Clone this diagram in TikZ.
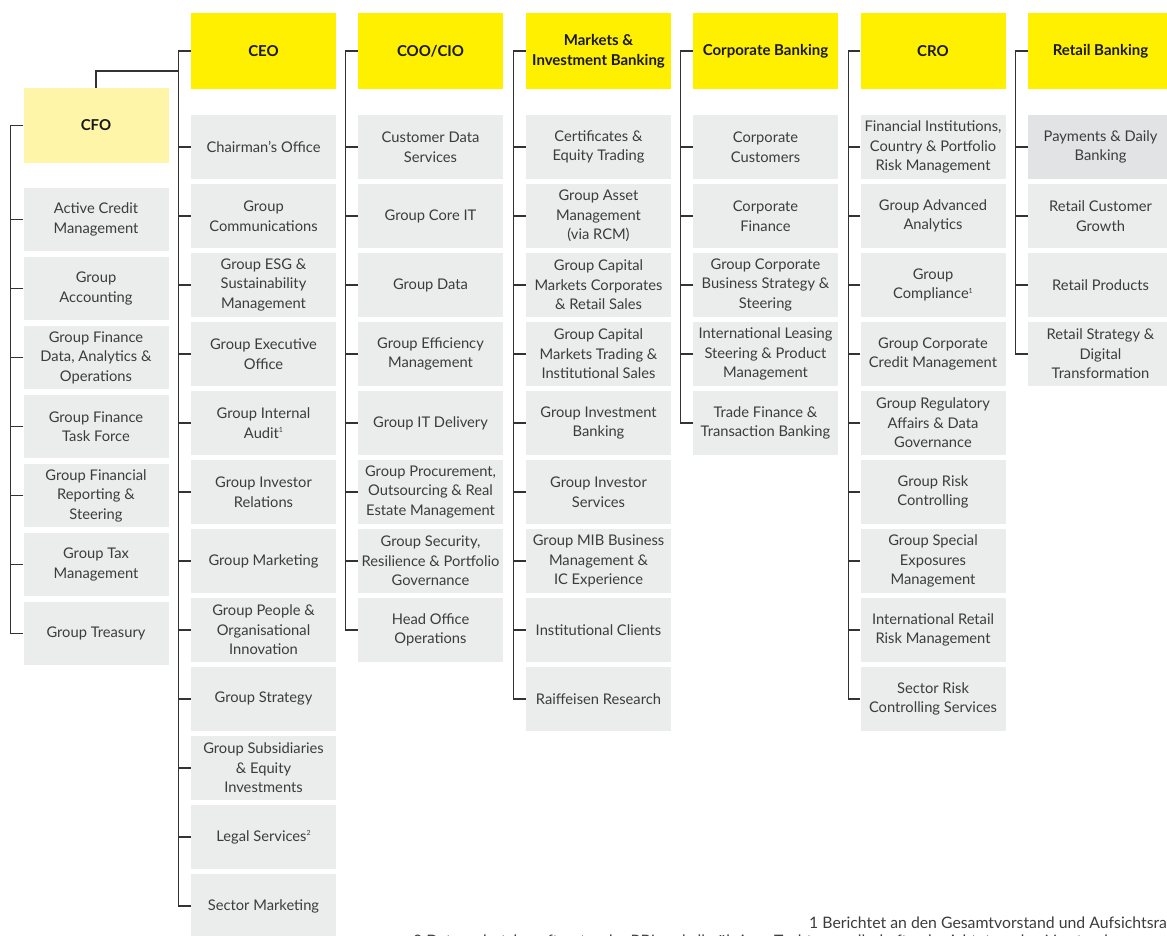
\documentclass[tikz,border=0pt]{standalone}
\usetikzlibrary{calc}
\usepackage{fontspec}
\setmainfont{Lato}
\definecolor{hdr}{HTML}{FFF000}
\definecolor{hdrlight}{HTML}{FFF5A8}
\definecolor{itm}{HTML}{EBECEC}
\definecolor{itmdark}{HTML}{E2E3E4}
\definecolor{txt}{HTML}{3C3C3C}
\definecolor{ln}{HTML}{333333}
\newcommand{\fnmk}[1]{\raisebox{0.75ex}{\fontsize{7}{7}\selectfont #1}}
\tikzset{
 hbox/.style={fill=hdr, minimum width=145pt, minimum height=76pt, inner sep=0pt, align=center, font=\fontsize{15}{20}\selectfont\bfseries, text=black!90},
 ibox/.style={fill=itm, minimum width=145pt, minimum height=63.5pt, inner sep=0pt, align=center, font=\fontsize{14.7}{19.5}\selectfont, text=txt},
 conn/.style={draw=ln, line width=1.2pt},
 fnote/.style={anchor=base west, inner sep=0pt, font=\fontsize{15.8}{17}\selectfont, text=txt},
}
\begin{document}
\begin{tikzpicture}[x=1pt,y=-1pt]
\useasboundingbox (0,0) rectangle (1167,936);
\clip (0,0) rectangle (1167,936);
% CFO
\node[hbox, fill=hdrlight, minimum height=75pt] (cfo) at (96,125.5) {CFO};
\foreach \t [count=\j] in {{Active Credit\\Management},{Group\\Accounting},{Group Finance\\Data, Analytics \&\\Operations},{Group Finance\\Task Force},{Group Financial\\Reporting \&\\Steering},{Group Tax\\Management},{Group Treasury}}
  \node[ibox] (cfo-\j) at (96,{219.5+69*(\j-1)}) {\t};
% CEO
\node[hbox] (ceo) at (263.5,51) {CEO};
\foreach \t [count=\j] in {{Chairman's Office},{Group\\Communications},{Group ESG \&\\Sustainability\\Management},{Group Executive\\Office},{Group Internal\\Audit\fnmk{1}},{Group Investor\\Relations},{Group Marketing},{Group People \&\\Organisational\\Innovation},{Group Strategy},{Group Subsidiaries\\\& Equity\\Investments},{Legal Services\fnmk{2}},{Sector Marketing}}
  \node[ibox] (ceo-\j) at (263.5,{147+69*(\j-1)}) {\t};
% COO/CIO
\node[hbox] (coo) at (430.5,51) {COO/CIO};
\foreach \t [count=\j] in {{Customer Data\\Services},{Group Core IT},{Group Data},{Group Efficiency\\Management},{Group IT Delivery},{Group Procurement,\\Outsourcing \& Real\\Estate Management},{Group Security,\\Resilience \& Portfolio\\Governance},{Head Office\\Operations}}
  \node[ibox] (coo-\j) at (430.5,{147+69*(\j-1)}) {\t};
% Markets & Investment Banking
\node[hbox] (mib) at (598.5,51) {Markets \&\\Investment Banking};
\foreach \t [count=\j] in {{Certificates \&\\Equity Trading},{Group Asset\\Management\\(via RCM)},{Group Capital\\Markets Corporates\\\& Retail Sales},{Group Capital\\Markets Trading \&\\Institutional Sales},{Group Investment\\Banking},{Group Investor\\Services},{Group MIB Business\\Management \&\\IC Experience},{Institutional Clients},{Raiffeisen Research}}
  \node[ibox] (mib-\j) at (598.5,{147+69*(\j-1)}) {\t};
% Corporate Banking
\node[hbox] (cb) at (765.5,51) {Corporate Banking};
\foreach \t [count=\j] in {{Corporate\\Customers},{Corporate\\Finance},{Group Corporate\\Business Strategy \&\\Steering},{International Leasing\\Steering \& Product\\Management},{Trade Finance \&\\Transaction Banking}}
  \node[ibox] (cb-\j) at (765.5,{147+69*(\j-1)}) {\t};
% CRO
\node[hbox] (cro) at (933,51) {CRO};
\foreach \t [count=\j] in {{Financial Institutions,\\Country \& Portfolio\\Risk Management},{Group Advanced\\Analytics},{Group\\Compliance\fnmk{1}},{Group Corporate\\Credit Management},{Group Regulatory\\Affairs \& Data\\Governance},{Group Risk\\Controlling},{Group Special\\Exposures\\Management},{International Retail\\Risk Management},{Sector Risk\\Controlling Services}}
  \node[ibox] (cro-\j) at (933,{147+69*(\j-1)}) {\t};
% Retail Banking
\node[hbox] (rb) at (1100.5,51) {Retail Banking};
\foreach \t [count=\j] in {{Payments \& Daily\\Banking},{Retail Customer\\Growth},{Retail Products},{Retail Strategy \&\\Digital\\Transformation}}
  \node[ibox] (rb-\j) at (1100.5,{147+69*(\j-1)}) {\t};
\node[ibox, fill=itmdark] at (rb-1) {Payments \& Daily\\Banking};
% connectors
\draw[conn] (cfo.west) -- ++(-13,0) |- (cfo-7.west);
\foreach \j in {1,...,6} \draw[conn] (cfo-\j.west) -- ++(-13,0);
\coordinate (ceobus) at ($(ceo.west)+(-12,20)$);
\draw[conn] (cfo.north) |- (ceobus);
\draw[conn] (ceo.west) -- ++(-12,0) |- (ceo-12.west);
\foreach \j in {1,...,11} \draw[conn] (ceo-\j.west) -- ++(-12,0);
\draw[conn] (coo.west) -- ++(-12,0) |- (coo-8.west);
\foreach \j in {1,...,7} \draw[conn] (coo-\j.west) -- ++(-12,0);
\draw[conn] (mib.west) -- ++(-12,0) |- (mib-9.west);
\foreach \j in {1,...,8} \draw[conn] (mib-\j.west) -- ++(-12,0);
\draw[conn] (cb.west) -- ++(-12,0) |- (cb-5.west);
\foreach \j in {1,...,4} \draw[conn] (cb-\j.west) -- ++(-12,0);
\draw[conn] (cro.west) -- ++(-12,0) |- (cro-9.west);
\foreach \j in {1,...,8} \draw[conn] (cro-\j.west) -- ++(-12,0);
\draw[conn] (rb.west) -- ++(-12,0) |- (rb-4.west);
\foreach \j in {1,...,3} \draw[conn] (rb-\j.west) -- ++(-12,0);
% footnotes
\node[fnote] (fn1) at (809,928) {1 Berichtet an den Gesamtvorstand und Aufsichtsrat};
\node[fnote] (fn2) at (413,946) {2 Datenschutzbeauftragter der RBI und alle übrigen Tochtergesellschaften berichtet an den Vorstand};
\end{tikzpicture}
\end{document}
